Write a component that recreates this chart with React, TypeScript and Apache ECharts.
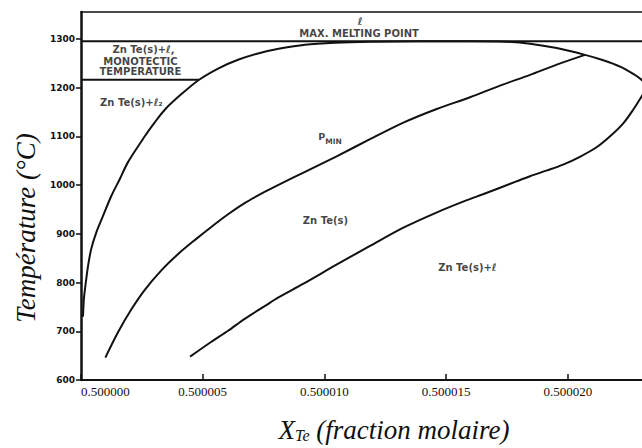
import React, { useEffect, useRef } from "react";
import * as echarts from "echarts";

// Axis ticks
const xTicks = [0.5, 0.500005, 0.50001, 0.500015, 0.50002];
const yTicks = [600, 700, 800, 900, 1000, 1100, 1200, 1300];
const xMin = 0.5;
const xMax = 0.50002304;
const yMin = 600;
const yMax = 1355;

// Solidus (ZnTe(s) existence boundary): Zn-rich branch, top, retrograde loop, Te-rich branch
const solidusX = [
  0.50000008, 0.5000001, 0.50000012, 0.50000018, 0.50000029, 0.50000042, 0.50000063, 0.5000009,
  0.50000124, 0.50000159, 0.50000193, 0.50000262, 0.50000302, 0.50000345, 0.50000409, 0.50000485,
  0.50000567, 0.50000645, 0.50000727, 0.50000817, 0.5000092, 0.50001043, 0.50001187,
  0.50001392, 0.50001598, 0.50001741, 0.50001844, 0.50001954, 0.5000207, 0.50002145, 0.50002214,
  0.50002268, 0.50002304, 0.50002324, 0.50002304, 0.50002267, 0.50002226, 0.50002173, 0.50002119,
  0.50002049, 0.5000198, 0.50001914, 0.50001844, 0.50001791, 0.50001651, 0.50001585, 0.50001462,
  0.50001322, 0.50001187, 0.50001051, 0.50000912, 0.50000809, 0.50000756, 0.50000674, 0.50000604,
  0.50000534, 0.50000448,
];
const solidusT = [
  730, 750, 767, 793, 834, 869, 903, 936,
  977, 1012, 1047, 1100, 1128, 1155, 1185, 1216,
  1240, 1257, 1270, 1280, 1288, 1292, 1294,
  1295, 1295, 1294, 1290, 1281, 1267, 1256, 1243,
  1228, 1215, 1200, 1183, 1154, 1126, 1100, 1078,
  1058, 1042, 1030, 1018, 1008, 981, 969, 944,
  912, 875, 837, 797, 769, 752, 726, 701,
  678, 648,
];

// P_min curve
const pminX = [
  0.500001, 0.50000152, 0.50000207, 0.50000262, 0.5000033, 0.50000398, 0.50000467, 0.50000535,
  0.50000604, 0.50000672, 0.50000754, 0.50000809, 0.5000092, 0.5000105, 0.50001187, 0.50001324,
  0.50001461, 0.50001598, 0.50001721, 0.50001844, 0.50001954, 0.5000207,
];
const pminT = [
  646, 698, 745, 785, 825, 858, 887, 914,
  940, 963, 986, 1000, 1027, 1059, 1094, 1128,
  1156, 1180, 1204, 1226, 1247, 1267,
];

// Horizontal invariant lines
const meltingT = 1295;
const monotecticT = 1216;
const monotecticEndX = 0.50000485;

// Region / line annotations (data coordinates)
const annotationTexts = [
  "ℓ",
  "MAX. MELTING POINT",
  "Zn Te(s)+ℓ,",
  "MONOTECTIC",
  "TEMPERATURE",
  "Zn Te(s)+ℓ₂",
  "{p|P}{m|MIN}",
  "Zn Te(s)",
  "Zn Te(s)+ℓ",
];
const annotationX = [
  0.50001146, 0.50001142, 0.50000257, 0.50000244, 0.50000244, 0.50000207, 0.50001023, 0.50001004,
  0.50001587,
];
const annotationT = [1335, 1311, 1279, 1254, 1233, 1169, 1095, 927, 831];

export default function App() {
  const ref = useRef<HTMLDivElement>(null);

  useEffect(() => {
    if (!ref.current) return;
    const chart = echarts.init(ref.current, null, { renderer: "svg" });
    const ink = "#111";
    chart.setOption({
      animation: false,
      backgroundColor: "#fff",
      grid: { left: 81, right: 0, top: 12, bottom: 66.5, containLabel: false },
      xAxis: [
        {
          type: "value",
          min: xMin,
          max: xMax,
          position: "bottom",
          axisLine: { onZero: false, lineStyle: { color: ink, width: 2 } },
          axisTick: {
            show: true,
            inside: true,
            length: 6,
            customValues: xTicks,
            lineStyle: { color: ink, width: 1.5 },
          },
          axisLabel: {
            customValues: xTicks,
            formatter: (v: number) => v.toFixed(6),
            fontFamily: "Liberation Serif",
            fontSize: 13,
            color: ink,
            margin: 5,
            alignMinLabel: "left",
          },
          splitLine: { show: false },
          name: "{x|X}{s|Te}{n| (fraction molaire)}",
          nameLocation: "middle",
          nameGap: 36,
          nameTextStyle: {
            padding: [0, 0, 0, 65],
            rich: {
              x: { fontFamily: "Liberation Serif", fontStyle: "italic", fontSize: 27, color: ink, verticalAlign: "bottom" },
              s: { fontFamily: "Liberation Serif", fontStyle: "italic", fontSize: 16, color: ink, verticalAlign: "bottom" },
              n: { fontFamily: "Liberation Serif", fontStyle: "italic", fontSize: 27, color: ink, verticalAlign: "bottom" },
            },
          },
        },
        {
          type: "value",
          min: xMin,
          max: xMax,
          position: "top",
          axisLine: { onZero: false, lineStyle: { color: ink, width: 1.5 } },
          axisTick: { show: false },
          axisLabel: { show: false },
          splitLine: { show: false },
        },
      ],
      yAxis: {
        type: "value",
        min: yMin,
        max: yMax,
        axisLine: { show: true, onZero: false, lineStyle: { color: ink, width: 2.5 } },
        axisTick: {
          show: true,
          length: 5,
          customValues: yTicks,
          lineStyle: { color: ink, width: 1.5 },
        },
        axisLabel: {
          customValues: yTicks,
          formatter: (v: number) => String(v),
          fontFamily: "DejaVu Sans",
          fontWeight: "bold",
          fontSize: 9,
          color: ink,
          margin: 6,
        },
        splitLine: { show: false },
        name: "Température (°C)",
        nameLocation: "middle",
        nameRotate: 90,
        nameGap: 42,
        nameTextStyle: {
          fontFamily: "Liberation Serif",
          fontStyle: "italic",
          fontSize: 27,
          color: ink,
          padding: [0, 64, 0, 0],
        },
      },
      series: [
        {
          type: "line",
          name: "solidus",
          data: solidusX.map((x, i) => [x, solidusT[i]]),
          showSymbol: false,
          smooth: 0.3,
          clip: true,
          lineStyle: { color: ink, width: 2 },
          silent: true,
        },
        {
          type: "line",
          name: "Pmin",
          data: pminX.map((x, i) => [x, pminT[i]]),
          showSymbol: false,
          smooth: 0.3,
          clip: true,
          lineStyle: { color: ink, width: 2 },
          silent: true,
        },
        {
          type: "line",
          name: "melting",
          data: [
            [xMin, meltingT],
            [xMax, meltingT],
          ],
          showSymbol: false,
          lineStyle: { color: ink, width: 1.8 },
          silent: true,
        },
        {
          type: "line",
          name: "monotectic",
          data: [
            [xMin, monotecticT],
            [monotecticEndX, monotecticT],
          ],
          showSymbol: false,
          lineStyle: { color: ink, width: 1.8 },
          silent: true,
        },
        {
          type: "scatter",
          name: "labels",
          symbolSize: 0,
          silent: true,
          data: annotationTexts.map((t, i) => ({ value: [annotationX[i], annotationT[i]], name: t })),
          label: {
            show: true,
            position: "inside",
            formatter: (p: any) => p.name,
            fontFamily: "DejaVu Sans",
            fontWeight: "bold",
            fontSize: 10,
            color: ink,
            rich: {
              p: { fontFamily: "DejaVu Sans", fontWeight: "bold", fontSize: 9.5, color: ink, padding: [0, 0, 5, 0] },
              m: { fontFamily: "DejaVu Sans", fontWeight: "bold", fontSize: 7.5, color: ink, padding: [5, 0, 0, 0] },
            },
          },
        },
      ],
    });
    return () => chart.dispose();
  }, []);

  return (
    <div
      ref={ref}
      style={{ position: "fixed", left: 0, top: 0, width: 642, height: 448, background: "#fff" }}
    />
  );
}
